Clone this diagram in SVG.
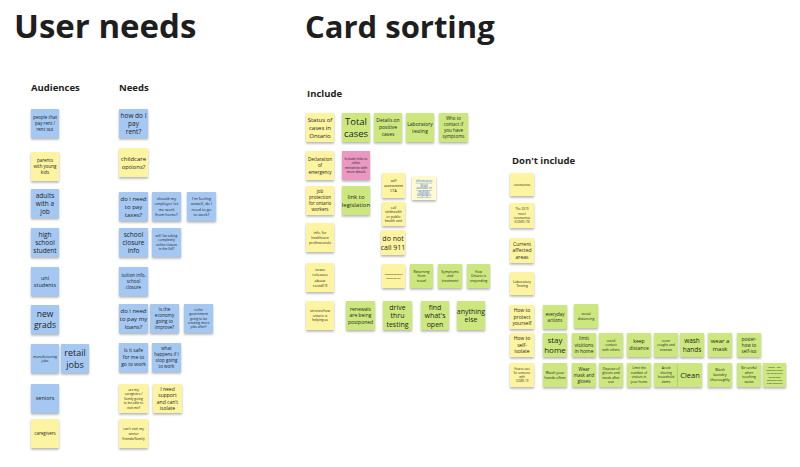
<svg xmlns="http://www.w3.org/2000/svg" width="800" height="467" viewBox="0 0 800 467">
<defs>
<filter id="sh" x="-20%" y="-20%" width="140%" height="150%"><feDropShadow dx="0" dy="1.6" stdDeviation="0.9" flood-color="#000" flood-opacity="0.3"/></filter>
</defs>
<style>
text{font-family:"Open Sans","DejaVu Sans",sans-serif;fill:#1e1e1e;}
.n text{text-anchor:middle;}
.b rect{fill:#a4c8f2;}
.y rect{fill:#fcf4a0;}
.g rect{fill:#cde77f;}
.p rect{fill:#ea97c2;}
.l rect{fill:#fffbcf;}
.n rect{filter:url(#sh);}
.h1{font-weight:700;}
.h2{font-weight:700;font-size:9.5px;}
.lk text{fill:#2f66d0;text-decoration:underline;}
</style>
<rect width="800" height="467" fill="#ffffff"/>
<text class="h1" x="14" y="38" font-size="33">User needs</text>
<text class="h1" x="305" y="38" font-size="31">Card sorting</text>
<text class="h2" x="31" y="91">Audiences</text>
<text class="h2" x="119" y="91">Needs</text>
<text class="h2" x="307" y="97">Include</text>
<text class="h2" x="512" y="164">Don't include</text>

<!-- Audiences -->
<g id="a1" class="n b"><rect x="31" y="109" width="28" height="29"/><text font-size="4.5"><tspan x="45" y="119.1">people that</tspan><tspan x="45" y="125.1">pay rent /</tspan><tspan x="45" y="131.1">rent out</tspan></text></g>
<g id="a2" class="n y"><rect x="31" y="152" width="28" height="29"/><text font-size="4.5"><tspan x="45" y="162.1">parents</tspan><tspan x="45" y="168.1">with young</tspan><tspan x="45" y="174.1">kids</tspan></text></g>
<g id="a3" class="n b"><rect x="31" y="189" width="28" height="29"/><text font-size="6.5"><tspan x="45" y="197.8">adults</tspan><tspan x="45" y="205.8">with a</tspan><tspan x="45" y="213.8">job</tspan></text></g>
<g id="a4" class="n b"><rect x="31" y="228" width="28" height="29"/><text font-size="6.5"><tspan x="45" y="236.8">high</tspan><tspan x="45" y="244.8">school</tspan><tspan x="45" y="252.8">student</tspan></text></g>
<g id="a5" class="n b"><rect x="31" y="267" width="28" height="29"/><text font-size="5.5"><tspan x="45" y="279.9">uni</tspan><tspan x="45" y="286.9">students</tspan></text></g>
<g id="a6" class="n b"><rect x="31" y="305" width="28" height="29"/><text font-size="8.5"><tspan x="45" y="316.7">new</tspan><tspan x="45" y="328.3">grads</tspan></text></g>
<g id="a7" class="n b"><rect x="31" y="344" width="28" height="29"/><text font-size="3.5"><tspan x="45" y="357.5">manufacturing</tspan><tspan x="45" y="362">jobs</tspan></text></g>
<g id="a8" class="n b"><rect x="61" y="344" width="28" height="29"/><text font-size="9"><tspan x="75" y="355.8">retail</tspan><tspan x="75" y="368">jobs</tspan></text></g>
<g id="a9" class="n b"><rect x="31" y="384" width="28" height="29"/><text font-size="5.5"><tspan x="45" y="400.4">seniors</tspan></text></g>
<g id="a10" class="n y"><rect x="31" y="419" width="28" height="29"/><text font-size="4.5"><tspan x="45" y="435.1">caregivers</tspan></text></g>

<!-- Needs -->
<g id="n1" class="n b"><rect x="119" y="109" width="29" height="29"/><text font-size="6.5"><tspan x="133.5" y="117.8">how do I</tspan><tspan x="133.5" y="125.8">pay</tspan><tspan x="133.5" y="133.8">rent?</tspan></text></g>
<g id="n2" class="n y"><rect x="119" y="148" width="29" height="29"/><text font-size="6"><tspan x="133.5" y="160.6">childcare</tspan><tspan x="133.5" y="168.6">options?</tspan></text></g>
<g id="n3" class="n b"><rect x="119" y="192" width="29" height="29"/><text font-size="6"><tspan x="133.5" y="200.6">do i need</tspan><tspan x="133.5" y="208.6">to pay</tspan><tspan x="133.5" y="216.6">taxes?</tspan></text></g>
<g id="n4" class="n b"><rect x="152" y="192" width="29" height="29"/><text font-size="4"><tspan x="166.5" y="199.7">should my</tspan><tspan x="166.5" y="205.2">employer let</tspan><tspan x="166.5" y="210.7">me work</tspan><tspan x="166.5" y="216.2">from home?</tspan></text></g>
<g id="n5" class="n b"><rect x="187" y="192" width="29" height="29"/><text font-size="4"><tspan x="201.5" y="199.7">I'm feeling</tspan><tspan x="201.5" y="205.2">unwell, do I</tspan><tspan x="201.5" y="210.7">need to go</tspan><tspan x="201.5" y="216.2">to work?</tspan></text></g>
<g id="n6" class="n b"><rect x="119" y="228" width="29" height="29"/><text font-size="6.5"><tspan x="133.5" y="236.8">school</tspan><tspan x="133.5" y="244.8">closure</tspan><tspan x="133.5" y="252.8">info</tspan></text></g>
<g id="n7" class="n b"><rect x="152" y="228" width="29" height="29"/><text font-size="3.3"><tspan x="166.5" y="236.9">will I be taking</tspan><tspan x="166.5" y="241.4">completely</tspan><tspan x="166.5" y="245.9">online classes</tspan><tspan x="166.5" y="250.4">in the fall?</tspan></text></g>
<g id="n8" class="n b"><rect x="119" y="267" width="29" height="29"/><text font-size="4.5"><tspan x="133.5" y="277.1">tuition info,</tspan><tspan x="133.5" y="283.1">school</tspan><tspan x="133.5" y="289.1">closure</tspan></text></g>
<g id="n9" class="n b"><rect x="119" y="304" width="29" height="29"/><text font-size="6"><tspan x="133.5" y="312.6">do i need</tspan><tspan x="133.5" y="320.6">to pay my</tspan><tspan x="133.5" y="328.6">loans?</tspan></text></g>
<g id="n10" class="n b"><rect x="150" y="304" width="29" height="29"/><text font-size="4.5"><tspan x="164.5" y="311.1">is the</tspan><tspan x="164.5" y="317.1">economy</tspan><tspan x="164.5" y="323.1">going to</tspan><tspan x="164.5" y="329.1">improve?</tspan></text></g>
<g id="n11" class="n b"><rect x="184" y="304" width="29" height="29"/><text font-size="3.3"><tspan x="198.5" y="311.1">is the</tspan><tspan x="198.5" y="315.4">government</tspan><tspan x="198.5" y="319.7">going to be</tspan><tspan x="198.5" y="324">creating more</tspan><tspan x="198.5" y="328.3">jobs after?</tspan></text></g>
<g id="n12" class="n b"><rect x="119" y="343" width="29" height="29"/><text font-size="5"><tspan x="133.5" y="352.3">Is it safe</tspan><tspan x="133.5" y="359.3">for me to</tspan><tspan x="133.5" y="366.3">go to work</tspan></text></g>
<g id="n13" class="n b"><rect x="152" y="343" width="29" height="29"/><text font-size="4.5"><tspan x="166.5" y="350.1">what</tspan><tspan x="166.5" y="356.1">happens if I</tspan><tspan x="166.5" y="362.1">stop going</tspan><tspan x="166.5" y="368.1">to work</tspan></text></g>
<g id="n14" class="n y"><rect x="119" y="384" width="29" height="29"/><text font-size="3.3"><tspan x="133.5" y="390.7">are my</tspan><tspan x="133.5" y="395.2">caregivers /</tspan><tspan x="133.5" y="399.7">family going</tspan><tspan x="133.5" y="404.2">to be able to</tspan><tspan x="133.5" y="408.7">visit me?</tspan></text></g>
<g id="n15" class="n y"><rect x="153" y="384" width="29" height="29"/><text font-size="5"><tspan x="167.5" y="390.5">I need</tspan><tspan x="167.5" y="397">support</tspan><tspan x="167.5" y="403.5">and can't</tspan><tspan x="167.5" y="410">isolate</tspan></text></g>
<g id="n16" class="n y"><rect x="119" y="419" width="29" height="29"/><text font-size="3.5"><tspan x="133.5" y="429.7">can't visit my</tspan><tspan x="133.5" y="434.7">senior</tspan><tspan x="133.5" y="439.7">friends/family</tspan></text></g>

<!-- Include -->
<g id="i1" class="n y"><rect x="306" y="113" width="28" height="29"/><text font-size="6"><tspan x="320" y="121.6">Status of</tspan><tspan x="320" y="129.6">cases in</tspan><tspan x="320" y="137.6">Ontario</tspan></text></g>
<g id="i2" class="n g"><rect x="342" y="113" width="28" height="29"/><text font-size="9.5"><tspan x="356" y="124.8">Total</tspan><tspan x="356" y="137">cases</tspan></text></g>
<g id="i3" class="n g"><rect x="374" y="113" width="28" height="29"/><text font-size="5"><tspan x="388" y="122.3">Details on</tspan><tspan x="388" y="129.3">positive</tspan><tspan x="388" y="136.3">cases</tspan></text></g>
<g id="i4" class="n g"><rect x="406" y="113" width="28" height="29"/><text font-size="5"><tspan x="420" y="125.8">Laboratory</tspan><tspan x="420" y="132.8">testing</tspan></text></g>
<g id="i5" class="n g"><rect x="439" y="113" width="29" height="29"/><text font-size="4.5"><tspan x="453.5" y="120.1">Who to</tspan><tspan x="453.5" y="126.1">contact if</tspan><tspan x="453.5" y="132.1">you have</tspan><tspan x="453.5" y="138.1">symptoms</tspan></text></g>
<g id="i6" class="n y"><rect x="306" y="151" width="28" height="29"/><text font-size="4.5"><tspan x="320" y="160.6">Declaration</tspan><tspan x="320" y="167.1">of</tspan><tspan x="320" y="173.6">emergency</tspan></text></g>
<g id="i7" class="n p"><rect x="342" y="151" width="28" height="29"/><text font-size="3.3"><tspan x="356" y="159.9">Include links to</tspan><tspan x="356" y="164.4">other</tspan><tspan x="356" y="168.9">ministries with</tspan><tspan x="356" y="173.4">more details</tspan></text></g>
<g id="i8" class="n y"><rect x="306" y="186" width="28" height="29"/><text font-size="4.5"><tspan x="320" y="193.1">job</tspan><tspan x="320" y="199.1">protection</tspan><tspan x="320" y="205.1">for ontario</tspan><tspan x="320" y="211.1">workers</tspan></text></g>
<g id="i9" class="n g"><rect x="342" y="186" width="28" height="29"/><text font-size="6"><tspan x="356" y="198.6">link to</tspan><tspan x="356" y="206.6">legislation</tspan></text></g>
<g id="i10" class="n y"><rect x="306" y="223" width="28" height="29"/><text font-size="3.5"><tspan x="320" y="233.7">info. for</tspan><tspan x="320" y="238.7">healthcare</tspan><tspan x="320" y="243.7">professionals</tspan></text></g>
<g id="i11" class="n y"><rect x="306" y="263" width="28" height="29"/><text font-size="4"><tspan x="320" y="270.7">news</tspan><tspan x="320" y="276.2">releases</tspan><tspan x="320" y="281.7">about</tspan><tspan x="320" y="287.2">covid19</tspan></text></g>
<g id="i12" class="n y"><rect x="306" y="301" width="28" height="29"/><text font-size="3.3"><tspan x="320" y="312.2">services/how</tspan><tspan x="320" y="316.7">ontario is</tspan><tspan x="320" y="321.2">helping us</tspan></text></g>
<g id="i13" class="n g"><rect x="346" y="301" width="29" height="29"/><text font-size="5"><tspan x="360.5" y="310.8">renewals</tspan><tspan x="360.5" y="317.3">are being</tspan><tspan x="360.5" y="323.8">postponed</tspan></text></g>
<g id="i14" class="n g"><rect x="383" y="301" width="29" height="29"/><text font-size="7"><tspan x="397.5" y="309.5">drive</tspan><tspan x="397.5" y="318">thru</tspan><tspan x="397.5" y="326.5">testing</tspan></text></g>
<g id="i15" class="n g"><rect x="421" y="301" width="28" height="29"/><text font-size="7"><tspan x="435" y="309.5">find</tspan><tspan x="435" y="318">what's</tspan><tspan x="435" y="326.5">open</tspan></text></g>
<g id="i16" class="n g"><rect x="457" y="301" width="28" height="29"/><text font-size="7"><tspan x="471" y="313.7">anything</tspan><tspan x="471" y="322.2">else</tspan></text></g>
<g id="i17" class="n y"><rect x="382" y="173" width="23" height="25"/><text font-size="3.5"><tspan x="393.5" y="181.7">self</tspan><tspan x="393.5" y="186.7">assessment</tspan><tspan x="393.5" y="191.7">CTA</tspan></text></g>
<g id="i18" class="n l lk"><rect x="412" y="176" width="24" height="24"/><text font-size="3"><tspan x="424" y="181.9">information</tspan><tspan x="424" y="185.5">sheet</tspan><tspan x="424" y="189.1">available in</tspan><tspan x="424" y="192.7">multiple</tspan><tspan x="424" y="196.3">languages</tspan></text></g>
<g id="i19" class="n y"><rect x="382" y="202" width="23" height="24"/><text font-size="3.5"><tspan x="393.5" y="208.5">call</tspan><tspan x="393.5" y="213">telehealth</tspan><tspan x="393.5" y="217.5">or public</tspan><tspan x="393.5" y="222">health unit</tspan></text></g>
<g id="i20" class="n y"><rect x="381" y="230" width="24" height="25"/><text font-size="7"><tspan x="393" y="240.5">do not</tspan><tspan x="393" y="249.5">call 911</tspan></text></g>
<g id="i21" class="n y"><rect x="382" y="264" width="23" height="24"/><text font-size="2.5"><tspan x="393.5" y="275.2">comprehensive</tspan><tspan x="393.5" y="278.7">selection list</tspan></text></g>
<g id="i22" class="n g"><rect x="410" y="264" width="23" height="24"/><text font-size="3.5"><tspan x="421.5" y="272.7">Returning</tspan><tspan x="421.5" y="277.2">from</tspan><tspan x="421.5" y="281.7">travel</tspan></text></g>
<g id="i23" class="n g"><rect x="438" y="264" width="24" height="24"/><text font-size="3.5"><tspan x="450" y="272.7">Symptoms</tspan><tspan x="450" y="277.2">and</tspan><tspan x="450" y="281.7">treatment</tspan></text></g>
<g id="i24" class="n g"><rect x="467" y="264" width="23" height="24"/><text font-size="3.3"><tspan x="478.5" y="272.7">How</tspan><tspan x="478.5" y="277.2">Ontario is</tspan><tspan x="478.5" y="281.7">responding</tspan></text></g>

<!-- Don't include -->
<g id="d1" class="n y"><rect x="510" y="173" width="24" height="23"/><text font-size="3"><tspan x="522" y="185.6">coronavirus</tspan></text></g>
<g id="d2" class="n y"><rect x="510" y="203" width="24" height="25"/><text font-size="3"><tspan x="522" y="210.3">The 2019</tspan><tspan x="522" y="214.5">novel</tspan><tspan x="522" y="218.7">coronavirus</tspan><tspan x="522" y="222.9">(COVID-19)</tspan></text></g>
<g id="d3" class="n y"><rect x="510" y="238" width="24" height="25"/><text font-size="5"><tspan x="522" y="245.8">Current</tspan><tspan x="522" y="252.3">affected</tspan><tspan x="522" y="258.8">areas</tspan></text></g>
<g id="d4" class="n y"><rect x="510" y="272" width="24" height="23"/><text font-size="3.5"><tspan x="522" y="282.5">Laboratory</tspan><tspan x="522" y="287">Testing</tspan></text></g>

<!-- Row 1 -->
<g id="r1" class="n y"><rect x="510" y="305" width="24" height="24"/><text font-size="5"><tspan x="522" y="312.3">How to</tspan><tspan x="522" y="318.8">protect</tspan><tspan x="522" y="325.3">yourself</tspan></text></g>
<g id="r2" class="n g"><rect x="543" y="305" width="24" height="24"/><text font-size="4.5"><tspan x="555" y="315.6">everyday</tspan><tspan x="555" y="321.6">actions</tspan></text></g>
<g id="r3" class="n g"><rect x="574" y="304" width="24" height="24"/><text font-size="3.5"><tspan x="586" y="314.7">social</tspan><tspan x="586" y="319.7">distancing</tspan></text></g>
<!-- Row 2 -->
<g id="s1" class="n y"><rect x="510" y="333" width="24" height="24"/><text font-size="5"><tspan x="522" y="340.3">How to</tspan><tspan x="522" y="346.8">self-</tspan><tspan x="522" y="353.3">isolate</tspan></text></g>
<g id="s2" class="n g"><rect x="543" y="333" width="24" height="24"/><text font-size="8"><tspan x="555" y="342.6">stay</tspan><tspan x="555" y="353.4">home</tspan></text></g>
<g id="s3" class="n g"><rect x="572" y="333" width="24" height="24"/><text font-size="5"><tspan x="584" y="340.3">limit</tspan><tspan x="584" y="346.8">visitions</tspan><tspan x="584" y="353.3">in home</tspan></text></g>
<g id="s4" class="n g"><rect x="599" y="333" width="24" height="24"/><text font-size="3.3"><tspan x="611" y="341.7">avoid</tspan><tspan x="611" y="346.2">contact</tspan><tspan x="611" y="350.7">with others</tspan></text></g>
<g id="s5" class="n g"><rect x="627" y="333" width="24" height="24"/><text font-size="5"><tspan x="639" y="343.3">keep</tspan><tspan x="639" y="350.3">distance</tspan></text></g>
<g id="s6" class="n g"><rect x="654" y="333" width="24" height="24"/><text font-size="3.3"><tspan x="666" y="341.7">cover</tspan><tspan x="666" y="346.2">coughs and</tspan><tspan x="666" y="350.7">sneezes</tspan></text></g>
<g id="s7" class="n g"><rect x="680" y="333" width="24" height="24"/><text font-size="6.5"><tspan x="692" y="343.1">wash</tspan><tspan x="692" y="351.9">hands</tspan></text></g>
<g id="s8" class="n g"><rect x="708" y="333" width="24" height="24"/><text font-size="6"><tspan x="720" y="343.1">wear a</tspan><tspan x="720" y="351.3">mask</tspan></text></g>
<g id="s9" class="n g"><rect x="737" y="333" width="24" height="24"/><text font-size="4.5"><tspan x="749" y="340.6">poster-</tspan><tspan x="749" y="346.6">how to</tspan><tspan x="749" y="352.6">self-iso</tspan></text></g>
<!-- Row 3 -->
<g id="c1" class="n y"><rect x="510" y="363" width="24" height="24"/><text font-size="2.8"><tspan x="522" y="370.3">How to care</tspan><tspan x="522" y="374.1">for someone</tspan><tspan x="522" y="377.9">with</tspan><tspan x="522" y="381.7">COVID-19</tspan></text></g>
<g id="c2" class="n g"><rect x="543" y="363" width="24" height="24"/><text font-size="3.8"><tspan x="555" y="373.8">Wash your</tspan><tspan x="555" y="378.8">hands often</tspan></text></g>
<g id="c3" class="n g"><rect x="572" y="363" width="24" height="24"/><text font-size="4.5"><tspan x="584" y="370.6">Wear</tspan><tspan x="584" y="376.6">mask and</tspan><tspan x="584" y="382.6">gloves</tspan></text></g>
<g id="c4" class="n g"><rect x="599" y="363" width="24" height="24"/><text font-size="3.5"><tspan x="611" y="369.5">Dispose of</tspan><tspan x="611" y="374">gloves and</tspan><tspan x="611" y="378.5">mask after</tspan><tspan x="611" y="383">use</tspan></text></g>
<g id="c5" class="n g"><rect x="627" y="363" width="24" height="24"/><text font-size="3.3"><tspan x="639" y="369.4">Limit the</tspan><tspan x="639" y="373.9">number of</tspan><tspan x="639" y="378.4">visitors in</tspan><tspan x="639" y="382.9">your home</tspan></text></g>
<g id="c6" class="n g"><rect x="654" y="363" width="24" height="24"/><text font-size="3.3"><tspan x="666" y="369.4">Avoid</tspan><tspan x="666" y="373.9">sharing</tspan><tspan x="666" y="378.4">household</tspan><tspan x="666" y="382.9">items</tspan></text></g>
<g id="c7" class="n g"><rect x="678" y="363" width="24" height="24"/><text font-size="7.5"><tspan x="690" y="377.6">Clean</tspan></text></g>
<g id="c8" class="n g"><rect x="708" y="363" width="24" height="24"/><text font-size="3.8"><tspan x="720" y="371.3">Wash</tspan><tspan x="720" y="376.3">laundry</tspan><tspan x="720" y="381.3">thoroughly</tspan></text></g>
<g id="c9" class="n g"><rect x="737" y="363" width="24" height="24"/><text font-size="3.3"><tspan x="749" y="369.4">Be careful</tspan><tspan x="749" y="373.9">when</tspan><tspan x="749" y="378.4">touching</tspan><tspan x="749" y="382.9">waste</tspan></text></g>
<g id="c10" class="n g"><rect x="763" y="363" width="23" height="24"/><text font-size="2.4"><tspan x="774.5" y="367.9">Poster - Self</tspan><tspan x="774.5" y="371.1">Isolation Guide</tspan><tspan x="774.5" y="374.3">for caregivers,</tspan><tspan x="774.5" y="377.5">household</tspan><tspan x="774.5" y="380.7">members and</tspan><tspan x="774.5" y="383.9">close contacts</tspan></text></g>
</svg>
